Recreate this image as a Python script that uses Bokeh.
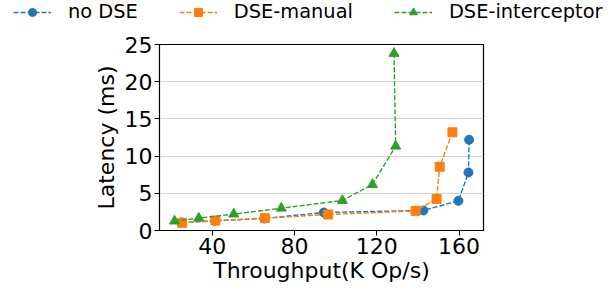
from bokeh.plotting import figure
from bokeh.layouts import column, row
from bokeh.models import Range1d, FixedTicker, Legend, LegendItem
from bokeh.embed import file_html
from bokeh.resources import INLINE

# Throughput (K Op/s) and latency (ms)
nodse_x = [25.1, 41.4, 65.4, 94.3, 142.7, 159.7, 164.6, 164.9]
nodse_y = [1.08, 1.30, 1.62, 2.42, 2.69, 3.99, 7.80, 12.2]
manual_x = [25.4, 41.6, 65.6, 96.4, 138.9, 149.1, 150.6, 156.8]
manual_y = [1.03, 1.34, 1.66, 2.15, 2.64, 4.25, 8.56, 13.2]
inter_x = [21.7, 33.5, 50.5, 73.6, 103.3, 117.9, 129.2, 128.4]
inter_y = [1.26, 1.66, 2.20, 3.00, 4.03, 6.18, 11.33, 23.8]

x_ticks = [40, 80, 120, 160]
y_ticks = [0, 5, 10, 15, 20, 25]
labels = ["no DSE", "DSE-manual", "DSE-interceptor"]
colors = ["#1f77b4", "#ff7f0e", "#2ca02c"]
markers = ["circle", "square", "triangle"]
sizes = [9, 9, 10]

FONT = "DejaVu Sans"

p = figure(frame_width=324, frame_height=186, output_backend="svg", toolbar_location=None,
           x_range=Range1d(14.4, 171.9), y_range=Range1d(0, 25),
           min_border_left=159, min_border_right=129, min_border_top=18, min_border_bottom=0)
p.outline_line_color = "black"
p.outline_line_width = 1.2
p.background_fill_color = "white"
p.border_fill_color = "white"

p.xgrid.grid_line_color = None
p.ygrid.grid_line_color = "#d3d3d3"
p.ygrid.grid_line_width = 1

for ax in (p.xaxis, p.yaxis):
    ax.axis_line_color = "black"
    ax.major_tick_line_color = "black"
    ax.major_tick_out = 5
    ax.major_tick_in = 0
    ax.minor_tick_line_color = None
    ax.major_label_text_font = FONT
    ax.major_label_text_font_size = "22px"
    ax.major_label_text_color = "black"
    ax.axis_label_text_font = FONT
    ax.axis_label_text_font_size = "22px"
    ax.axis_label_text_font_style = "normal"
    ax.axis_label_text_color = "black"

p.xaxis.ticker = FixedTicker(ticks=x_ticks)
p.yaxis.ticker = FixedTicker(ticks=y_ticks)
p.xaxis.axis_label = "Throughput(K Op/s)"
p.yaxis.axis_label = "Latency (ms)"
p.xaxis.major_label_standoff = 2
p.yaxis.major_label_standoff = 2
p.xaxis.axis_label_standoff = 1
p.yaxis.axis_label_standoff = 3

series = [(nodse_x, nodse_y), (manual_x, manual_y), (inter_x, inter_y)]
for (xs, ys), col, mk, sz in zip(series, colors, markers, sizes):
    p.line(xs, ys, line_color=col, line_width=1.4, line_dash="5 2")
    p.scatter(xs, ys, marker=mk, size=sz, fill_color=col, line_color=col)

# legend strip above the chart; its proxy renderers hold the same series,
# but the strip's ranges keep them out of view so only the legend shows
lg = figure(width=612, height=26, output_backend="svg", toolbar_location=None,
            x_range=Range1d(-2, -1), y_range=Range1d(-2, -1),
            x_axis_location=None, y_axis_location=None,
            min_border_left=0, min_border_right=0, min_border_top=0, min_border_bottom=0)
lg.grid.visible = False
lg.outline_line_color = None
lg.background_fill_color = "white"
lg.border_fill_color = "white"
items = []
for (xs, ys), lab, col, mk, sz in zip(series, labels, colors, markers, sizes):
    ln = lg.line(xs, ys, line_color=col, line_width=1.4, line_dash="5 2")
    sc = lg.scatter(xs, ys, marker=mk, size=sz, fill_color=col, line_color=col)
    items.append(LegendItem(label=lab, renderers=[ln, sc]))
legend = Legend(items=items, orientation="horizontal", location=(13, 3),
                padding=0, margin=0, spacing=41, label_standoff=17,
                glyph_width=38, glyph_height=20, label_height=20,
                label_text_font=FONT, label_text_font_size="19.4px", label_text_color="black",
                background_fill_alpha=0, border_line_color=None)
lg.add_layout(legend)

layout = column(row(lg), p, spacing=0)
open("out.html", "w").write(file_html(layout, INLINE))
